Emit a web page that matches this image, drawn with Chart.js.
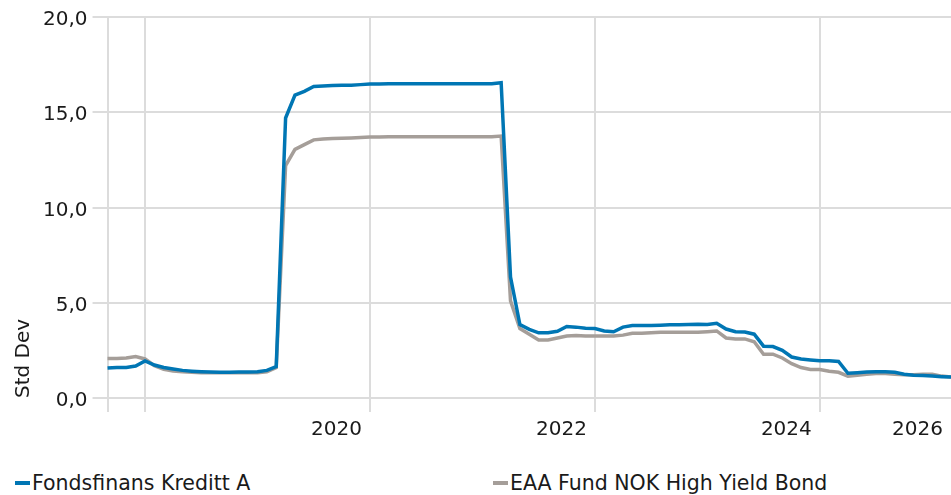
<!DOCTYPE html>
<html>
<head>
<meta charset="utf-8">
<script src="https://cdn.jsdelivr.net/npm/chart.js@4.4.1/dist/chart.umd.min.js"></script>
<style>
  html, body { margin: 0; padding: 0; background: #fff; }
  #wrap { position: relative; width: 951px; height: 495px; }
  #chartBox { position: absolute; left: 0; top: 0; width: 951px; height: 448px; }
  #legend { position: absolute; left: 0; top: 470px; width: 951px; height: 25px; display: flex;
    font-family: "DejaVu Sans", Verdana, sans-serif; font-size: 20.5px; color: #1a1a1a; }
  #legend .item { padding-left: 15px; box-sizing: border-box; display: flex; align-items: center; white-space: nowrap; }
  #legend .item:first-child { width: 478px; }
  #legend .mark { display: inline-block; width: 15px; height: 4px; margin-right: 2px; }
</style>
</head>
<body>
<div id="wrap">
  <div id="chartBox"><canvas id="stdChart"></canvas></div>
  <div id="legend"></div>
</div>
<script>
// Maneder (sep 2017 - mar 2025)
const months = [
  '2017-09','2017-10','2017-11','2017-12',
  '2018-01','2018-02','2018-03','2018-04','2018-05','2018-06','2018-07','2018-08','2018-09','2018-10','2018-11','2018-12',
  '2019-01','2019-02','2019-03','2019-04','2019-05','2019-06','2019-07','2019-08','2019-09','2019-10','2019-11','2019-12',
  '2020-01','2020-02','2020-03','2020-04','2020-05','2020-06','2020-07','2020-08','2020-09','2020-10','2020-11','2020-12',
  '2021-01','2021-02','2021-03','2021-04','2021-05','2021-06','2021-07','2021-08','2021-09','2021-10','2021-11','2021-12',
  '2022-01','2022-02','2022-03','2022-04','2022-05','2022-06','2022-07','2022-08','2022-09','2022-10','2022-11','2022-12',
  '2023-01','2023-02','2023-03','2023-04','2023-05','2023-06','2023-07','2023-08','2023-09','2023-10','2023-11','2023-12',
  '2024-01','2024-02','2024-03','2024-04','2024-05','2024-06','2024-07','2024-08','2024-09','2024-10','2024-11','2024-12',
  '2025-01','2025-02','2025-03'
];

const kredittA = [
  1.57, 1.6, 1.6, 1.68, 1.95,
  1.73, 1.6, 1.52, 1.45, 1.41,
  1.38, 1.36, 1.35, 1.35, 1.36,
  1.37, 1.38, 1.45, 1.65,
  14.7, 15.9, 16.1, 16.35, 16.38,
  16.4, 16.42, 16.42, 16.45, 16.48,
  16.48, 16.5, 16.5, 16.5, 16.5, 16.5, 16.5, 16.5, 16.5, 16.5, 16.5, 16.5, 16.5,
  16.55,
  6.35, 3.85, 3.6, 3.42, 3.42,
  3.5, 3.75, 3.72, 3.66, 3.65,
  3.52, 3.48, 3.72, 3.8,
  3.8, 3.8, 3.82, 3.84, 3.85, 3.86,
  3.87, 3.86, 3.92,
  3.62, 3.48, 3.46, 3.35, 2.72,
  2.7, 2.5, 2.15, 2.05, 2.0,
  1.95, 1.95, 1.92,
  1.3, 1.33, 1.36, 1.38, 1.38, 1.35,
  1.25, 1.2, 1.18, 1.15, 1.12, 1.1
];

const eaaHighYield = [
  2.07, 2.07, 2.1, 2.18, 2.05,
  1.7, 1.5, 1.42, 1.38, 1.35,
  1.33, 1.32, 1.32, 1.32, 1.32,
  1.32, 1.33, 1.38, 1.6,
  12.2, 13.05, 13.3, 13.55, 13.6,
  13.62, 13.63, 13.65, 13.68, 13.7,
  13.7, 13.72, 13.72, 13.72, 13.72, 13.72, 13.72, 13.72, 13.72, 13.72, 13.72, 13.72, 13.72,
  13.75,
  5.1, 3.65, 3.35, 3.05, 3.05,
  3.15, 3.25, 3.28, 3.25, 3.25,
  3.25, 3.25, 3.3, 3.4,
  3.4, 3.42, 3.45, 3.45, 3.45, 3.45,
  3.45, 3.48, 3.52,
  3.15, 3.1, 3.1, 2.95, 2.3,
  2.3, 2.1, 1.8, 1.6, 1.5,
  1.5, 1.4, 1.35,
  1.15, 1.2, 1.25, 1.28, 1.28, 1.25,
  1.22, 1.22, 1.25, 1.25, 1.15, 1.1
];

// aksetekster og gridlinjer
const xTickLabels = { '2020-01': '2020', '2022-01': '2022', '2024-01': '2024', '2025-03': '2026' };
const xGridMonths = ['2017-09', '2018-01', '2020-01', '2022-01', '2024-01'];
const yTicks = [0, 5, 10, 15, 20];

const series = [
  { label: 'Fondsfinans Kreditt A', data: kredittA, color: '#0076b4' },
  { label: 'EAA Fund NOK High Yield Bond', data: eaaHighYield, color: '#a59e99' }
];

const FONT = '"DejaVu Sans", Verdana, sans-serif';
const GRID = '#dcdcdc';

const ctx = document.getElementById('stdChart').getContext('2d');
const stdChart = new Chart(ctx, {
  type: 'line',
  data: {
    labels: months,
    datasets: series.map(s => ({
      label: s.label,
      data: s.data,
      borderColor: s.color,
      backgroundColor: s.color,
      borderWidth: 3.5,
      pointRadius: 0,
      tension: 0,
      fill: false
    }))
  },
  options: {
    responsive: true,
    maintainAspectRatio: false,
    animation: false,
    layout: { padding: { top: 10, right: 0, left: 12, bottom: 0 } },
    plugins: {
      legend: { display: false },
      tooltip: { enabled: false }
    },
    scales: {
      x: {
        type: 'category',
        offset: false,
        border: { display: false },
        // siste etikett er hoyrejustert, trenger ikke ekstra plass
        afterFit: axis => { axis.paddingLeft = 0; axis.paddingRight = 0; },
        grid: {
          lineWidth: 2,
          tickLength: 14,
          color: c => xGridMonths.includes(months[c.index]) ? GRID : 'rgba(0,0,0,0)'
        },
        ticks: {
          autoSkip: false,
          maxRotation: 0,
          align: 'end',
          labelOffset: -8,
          padding: 6,
          color: '#1a1a1a',
          font: { family: FONT, size: 20 },
          callback: (v, i) => xTickLabels[months[i]] || ''
        }
      },
      y: {
        min: 0,
        max: 20,
        border: { display: false },
        afterBuildTicks: axis => { axis.ticks = yTicks.map(v => ({ value: v })); },
        grid: { lineWidth: 2, tickLength: 15, color: GRID },
        ticks: {
          padding: 5,
          labelOffset: 3,
          color: '#1a1a1a',
          font: { family: FONT, size: 20 },
          callback: v => v.toFixed(1).replace('.', ',')
        },
        title: {
          display: true,
          text: 'Std Dev',
          align: 'start',
          color: '#1a1a1a',
          font: { family: FONT, size: 20 },
          padding: { top: 0, bottom: 2 }
        }
      }
    }
  }
});

// legend som html under grafen
const legendEl = document.getElementById('legend');
series.forEach(s => {
  const item = document.createElement('div');
  item.className = 'item';
  item.innerHTML = '<span class="mark" style="background:' + s.color + '"></span><span>' + s.label + '</span>';
  legendEl.appendChild(item);
});
</script>
</body>
</html>
